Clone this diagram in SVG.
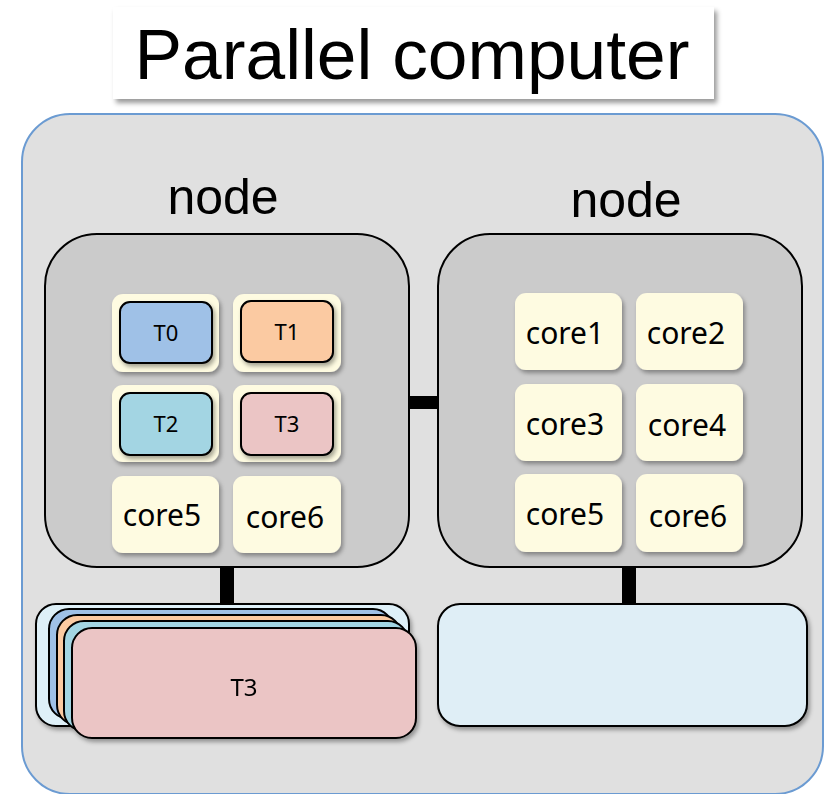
<svg xmlns="http://www.w3.org/2000/svg" width="833" height="794" viewBox="0 0 833 794">
  <defs>
    <filter id="shadow" x="-10%" y="-10%" width="125%" height="130%">
      <feDropShadow dx="2" dy="3" stdDeviation="2" flood-color="#000" flood-opacity="0.35"/>
    </filter>
    <filter id="shadowBig" x="-5%" y="-10%" width="115%" height="130%">
      <feDropShadow dx="3" dy="4" stdDeviation="2.5" flood-color="#000" flood-opacity="0.4"/>
    </filter>
  </defs>
  <style>
    .frame { fill: #e0e0e0; stroke: #6b9bd2; stroke-width: 2; }
    .node { fill: #cbcbcb; stroke: #000; stroke-width: 2; }
    .core { fill: #fefbe1; }
    .task { stroke: #000; stroke-width: 2; }
    .mem { stroke: #000; stroke-width: 2; }
    .bar { fill: #000; }
    .lbl { font-family: "Noto Sans", "Open Sans", sans-serif; fill: #000; text-anchor: middle; }
    .core-t { font-size: 30px; }
    .task-t { font-size: 22px; }
    .head { font-family: "Liberation Sans", Arial, sans-serif; fill: #000; text-anchor: middle; }
  </style>

  <!-- title -->
  <g id="title">
    <rect x="113" y="7" width="601" height="92" fill="#fff" filter="url(#shadowBig)"/>
    <text class="head" x="412" y="79" font-size="70" textLength="555" lengthAdjust="spacingAndGlyphs">Parallel computer</text>
  </g>

  <!-- enclosing machine -->
  <g id="computer">
    <rect class="frame" x="22" y="114" width="801" height="680" rx="48"/>
  </g>

  <!-- connectors -->
  <g id="connectors">
    <rect class="bar" x="408" y="396" width="30" height="13"/>
    <rect class="bar" x="220" y="566" width="14" height="38"/>
    <rect class="bar" x="622" y="566" width="14" height="38"/>
  </g>

  <!-- left node -->
  <g id="node-left">
    <text class="head" x="223" y="214" font-size="50">node</text>
    <rect class="node" x="45" y="234" width="364" height="333" rx="52"/>
    <g filter="url(#shadow)">
      <rect class="core" x="112" y="294" width="107" height="78" rx="11"/>
      <rect class="core" x="233" y="294" width="108" height="78" rx="11"/>
      <rect class="core" x="112" y="385" width="107" height="77" rx="11"/>
      <rect class="core" x="233" y="385" width="108" height="77" rx="11"/>
      <rect class="core" x="112" y="476" width="107" height="77" rx="11"/>
      <rect class="core" x="233" y="476" width="108" height="77" rx="11"/>
    </g>
    <g filter="url(#shadow)">
      <rect class="task" x="120" y="302" width="92" height="61" rx="10" fill="#9fc1e7"/>
      <rect class="task" x="241" y="301" width="92" height="61" rx="10" fill="#fbcaa2"/>
      <rect class="task" x="120" y="393" width="92" height="62" rx="10" fill="#a3d5e3"/>
      <rect class="task" x="241" y="393" width="92" height="62" rx="10" fill="#ebc5c5"/>
    </g>
    <text class="lbl task-t" x="166" y="341">T0</text>
    <text class="lbl task-t" x="287" y="340">T1</text>
    <text class="lbl task-t" x="166" y="432">T2</text>
    <text class="lbl task-t" x="287" y="432">T3</text>
    <text class="lbl core-t" x="162" y="526">core5</text>
    <text class="lbl core-t" x="285" y="528">core6</text>
  </g>

  <!-- right node -->
  <g id="node-right">
    <text class="head" x="626" y="217" font-size="50">node</text>
    <rect class="node" x="438" y="234" width="364" height="333" rx="52"/>
    <g filter="url(#shadow)">
      <rect class="core" x="515" y="293" width="107" height="77" rx="11"/>
      <rect class="core" x="636" y="293" width="107" height="77" rx="11"/>
      <rect class="core" x="515" y="384" width="107" height="77" rx="11"/>
      <rect class="core" x="636" y="384" width="107" height="77" rx="11"/>
      <rect class="core" x="515" y="474" width="107" height="78" rx="11"/>
      <rect class="core" x="636" y="474" width="107" height="78" rx="11"/>
    </g>
    <text class="lbl core-t" x="565" y="344">core1</text>
    <text class="lbl core-t" x="686" y="344">core2</text>
    <text class="lbl core-t" x="565" y="435">core3</text>
    <text class="lbl core-t" x="687" y="436">core4</text>
    <text class="lbl core-t" x="565" y="525">core5</text>
    <text class="lbl core-t" x="688" y="527">core6</text>
  </g>

  <!-- left node memory: stacked task pages -->
  <g id="memory-left" filter="url(#shadow)">
    <rect class="mem" x="36" y="604" width="373" height="122" rx="20" fill="#def0f8"/>
    <rect class="mem" x="49" y="609" width="344" height="110" rx="20" fill="#9fc1e7"/>
    <rect class="mem" x="57" y="615" width="344" height="110" rx="20" fill="#fbcaa2"/>
    <rect class="mem" x="64" y="621" width="344" height="110" rx="20" fill="#a3d5e3"/>
    <rect class="mem" x="72" y="628" width="344" height="110" rx="20" fill="#ebc5c5"/>
    <text class="lbl" x="244" y="696" font-size="24">T3</text>
  </g>

  <!-- right node memory -->
  <g id="memory-right">
    <rect class="mem" x="438" y="604" width="369" height="122" rx="22" fill="#dfeef6" filter="url(#shadow)"/>
  </g>
</svg>
